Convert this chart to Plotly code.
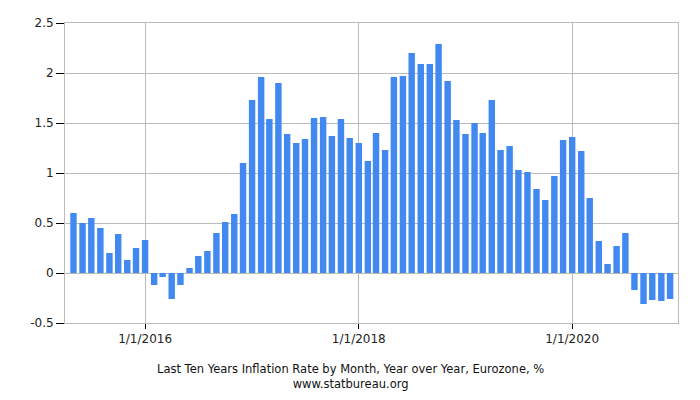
import plotly.graph_objects as go
import pandas as pd

months = pd.date_range("2015-05-01", "2020-12-01", freq="MS").strftime("%Y-%m-%d").tolist()
values = [
    0.60, 0.50, 0.55, 0.45, 0.20, 0.39, 0.13, 0.25,          # May-Dec 2015
    0.33, -0.12, -0.04, -0.26, -0.12, 0.05, 0.17, 0.22, 0.40, 0.51, 0.59, 1.10,   # 2016
    1.73, 1.96, 1.54, 1.90, 1.39, 1.30, 1.34, 1.55, 1.56, 1.37, 1.54, 1.35,       # 2017
    1.30, 1.12, 1.40, 1.23, 1.96, 1.97, 2.20, 2.09, 2.09, 2.29, 1.92, 1.53,       # 2018
    1.39, 1.50, 1.40, 1.73, 1.23, 1.27, 1.03, 1.01, 0.84, 0.73, 0.97, 1.33,       # 2019
    1.36, 1.22, 0.75, 0.32, 0.09, 0.27, 0.40, -0.17, -0.31, -0.27, -0.28, -0.26,  # 2020
]
y_ticks = [-0.5, 0, 0.5, 1, 1.5, 2, 2.5]
y_tick_labels = ["-0.5", "0", "0.5", "1", "1.5", "2", "2.5"]
x_ticks = ["2016-01-01", "2018-01-01", "2020-01-01"]
x_tick_labels = ["1/1/2016", "1/1/2018", "1/1/2020"]
title_line1 = "Last Ten Years Inflation Rate by Month, Year over Year, Eurozone, %"
title_line2 = "www.statbureau.org"

DAY_MS = 86400000

fig = go.Figure(
    go.Bar(
        x=months,
        y=values,
        width=[22 * DAY_MS] * len(months),
        marker=dict(color="#4189f0", line=dict(width=0)),
        hoverinfo="x+y",
    )
)

font = dict(family="DejaVu Sans", size=12, color="#222222")

fig.update_layout(
    width=700,
    height=400,
    margin=dict(l=65, r=22, t=23, b=77),
    paper_bgcolor="white",
    plot_bgcolor="white",
    showlegend=False,
    font=font,
    xaxis=dict(
        type="date",
        range=["2015-04-02", "2020-12-28"],
        tickmode="array",
        tickvals=x_ticks,
        ticktext=x_tick_labels,
        showgrid=True,
        gridcolor="#bbbbbb",
        gridwidth=1,
        showline=True,
        linecolor="#bbbbbb",
        linewidth=1,
        mirror=True,
        ticks="outside",
        ticklen=5,
        tickcolor="#000000",
        tickfont=font,
        zeroline=False,
    ),
    yaxis=dict(
        range=[-0.5, 2.5],
        tickmode="array",
        tickvals=y_ticks,
        ticktext=y_tick_labels,
        showgrid=True,
        gridcolor="#bbbbbb",
        gridwidth=1,
        showline=True,
        linecolor="#bbbbbb",
        linewidth=1,
        mirror=True,
        ticks="outside",
        ticklen=8,
        tickcolor="#000000",
        tickfont=font,
        zeroline=False,
    ),
    annotations=[
        dict(text=title_line1 + "<br>" + title_line2, xref="paper", yref="paper",
             x=0.465, y=-0.177, xanchor="center", yanchor="middle", showarrow=False,
             align="center",
             font=dict(family="DejaVu Sans", size=11.5, color="#111111")),
    ],
)

fig.write_html("out.html")
